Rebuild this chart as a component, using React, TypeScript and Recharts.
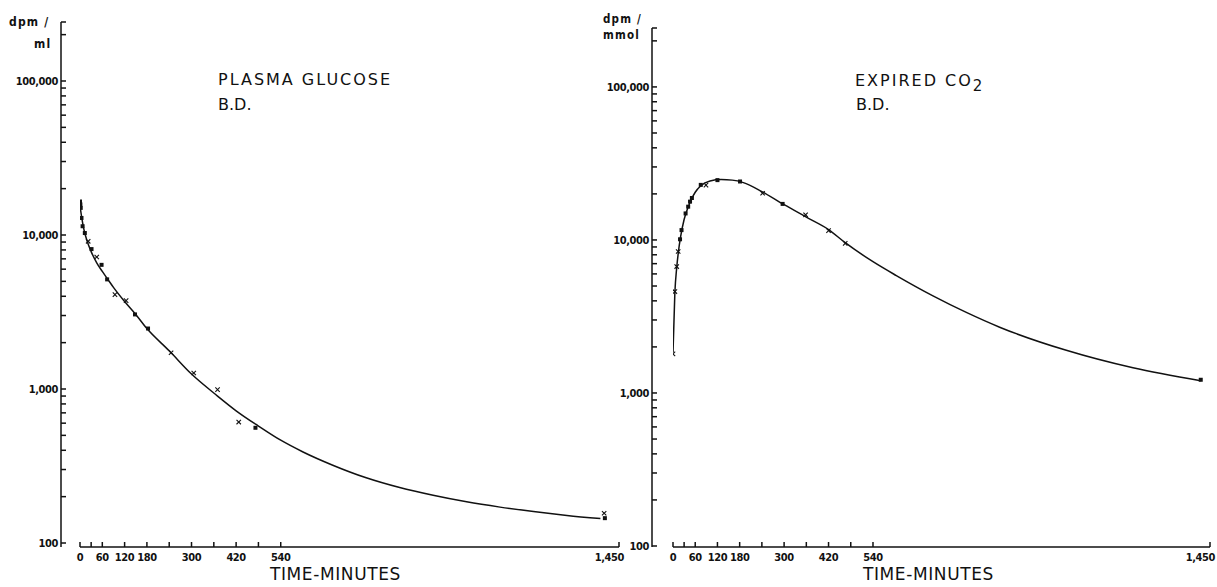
import React from 'react';
import { ComposedChart, Line, Scatter, XAxis, YAxis, ReferenceLine } from 'recharts';

// time axis (minutes)
const xTicks = [0, 30, 60, 120, 180, 240, 300, 360, 420, 480, 540, 1450];
const xTickLabels: Record<number, string> = {
  0: '0', 60: '60', 120: '120', 180: '180', 300: '300', 420: '420', 540: '540', 1450: '1,450',
};

// log axis
const yDecades = [100, 1000, 10000, 100000];
const yMinorSteps = [2, 3, 4, 5, 6, 7, 8, 9];
const yTickLabels: Record<number, string> = {
  100: '100', 1000: '1,000', 10000: '10,000', 100000: '100,000',
};

// plasma glucose, dpm/ml  [minutes, value]
const glucoseCurve: [number, number][] = [
  [0, 15500], [5, 12800], [10, 11000], [20, 9000], [30, 7800], [45, 6600], [60, 5800],
  [75, 5150], [90, 4570], [120, 3700], [150, 3050], [180, 2470], [240, 1770], [300, 1250],
  [370, 900], [420, 722], [480, 575], [540, 465], [600, 390], [680, 320], [770, 265],
  [860, 229], [950, 204], [1040, 185], [1130, 171], [1220, 160], [1310, 151], [1400, 144],
];
const glucoseDots: [number, number][] = [
  [0, 16500], [1, 15800], [2, 15000], [4, 12900], [7, 11400], [13, 10300], [31, 8100],
  [58, 6400], [73, 5150], [148, 3050], [183, 2470], [472, 560], [1412, 145],
];
const glucoseCrosses: [number, number][] = [
  [22, 9100], [45, 7200], [94, 4100], [124, 3750], [245, 1720], [306, 1270], [370, 990],
  [427, 610], [1410, 156],
];

// expired CO2, dpm/mmol
const co2Curve: [number, number][] = [
  [0, 1830], [5, 4500], [10, 6600], [15, 8500], [20, 10300], [30, 13600], [40, 16200],
  [50, 18500], [60, 20500], [75, 22600], [100, 24300], [130, 24800], [160, 24600],
  [190, 23700], [240, 20700], [300, 17000], [360, 14100], [420, 11700], [465, 9600],
  [540, 7210], [603, 5850], [702, 4310], [792, 3360], [882, 2690], [1062, 1900],
  [1242, 1460], [1425, 1200],
];
const co2Dots: [number, number][] = [
  [19, 10100], [23, 11600], [34, 14900], [41, 16500], [46, 17800], [51, 18800],
  [75, 22900], [120, 24600], [181, 24100], [296, 17200], [1425, 1220],
];
const co2Crosses: [number, number][] = [
  [0, 1800], [5, 4600], [10, 6700], [14, 8400], [89, 22800], [242, 20200], [358, 14600],
  [420, 11500], [465, 9500],
];

const toRows = (pts: [number, number][]) => pts.map(([t, v]) => ({ t, v }));

const labelFont = '"DejaVu Sans Condensed", "Liberation Sans Narrow", "DejaVu Sans", sans-serif';
const textFont = '"DejaVu Sans", sans-serif';

const XTick = (props: any) => {
  const { x, y, payload } = props;
  const label = xTickLabels[payload.value];
  const last = payload.value === 1450;
  return (
    <g>
      <line x1={x} x2={x} y1={y} y2={y - 5} stroke="#111" strokeWidth={1.5} />
      {label && (
        <text
          x={last ? x + 5 : x}
          y={y + 14}
          textAnchor={last ? 'end' : 'middle'}
          fontFamily={labelFont}
          fontWeight="bold"
          fontSize={11}
          letterSpacing={-0.4}
          fill="#111"
        >
          {label}
        </text>
      )}
    </g>
  );
};

const YTick = (props: any) => {
  const { x, y, payload } = props;
  const label = yTickLabels[payload.value];
  return (
    <g>
      <line x1={x} x2={x + 5} y1={y} y2={y} stroke="#111" strokeWidth={1.5} />
      {label && (
        <text
          x={x - 3}
          y={y}
          dy={4}
          textAnchor="end"
          fontFamily={labelFont}
          fontWeight="bold"
          fontSize={11}
          letterSpacing={-0.4}
          fill="#111"
        >
          {label}
        </text>
      )}
    </g>
  );
};

const Cross = (props: any) => {
  const { cx, cy } = props;
  const s = 2.2;
  return (
    <g stroke="#111" strokeWidth={1.1}>
      <line x1={cx - s} y1={cy - s} x2={cx + s} y2={cy + s} />
      <line x1={cx - s} y1={cy + s} x2={cx + s} y2={cy - s} />
    </g>
  );
};

const Dot = (props: any) => {
  const { cx, cy } = props;
  return <rect x={cx - 2} y={cy - 2} width={4} height={4} fill="#111" />;
};

interface PanelProps {
  left: number;
  width: number;
  top: number;
  right: number;
  padLeft: number;
  yDomain: [number, number];
  curve: [number, number][];
  dots: [number, number][];
  crosses: [number, number][];
}

const Panel = ({ left, width, top, right, padLeft, yDomain, curve, dots, crosses }: PanelProps) => {
  const yTicks = [
    ...yDecades.flatMap((d) => [d, ...yMinorSteps.map((m) => m * d)]).filter((v) => v >= yDomain[0] && v <= 200000),
    yDomain[1],
  ];
  return (
    <div style={{ position: 'absolute', left, top: 0 }}>
      <ComposedChart width={width} height={587} margin={{ top, right, bottom: 0, left: 0 }}>
        <XAxis
          type="number"
          dataKey="t"
          domain={[0, 1450]}
          allowDataOverflow
          ticks={xTicks}
          interval={0}
          padding={{ left: padLeft, right: 0 }}
          axisLine={false}
          tickLine={false}
          tickSize={0}
          tickMargin={0}
          height={587 - 547}
          tick={XTick}
        />
        <YAxis
          type="number"
          scale="log"
          domain={yDomain}
          allowDataOverflow
          ticks={yTicks}
          interval={0}
          width={61}
          axisLine={{ stroke: '#111', strokeWidth: 1.5 }}
          tickLine={false}
          tickSize={0}
          tickMargin={0}
          tick={YTick}
        />
        <ReferenceLine
          segment={[{ x: 0, y: yDomain[0] }, { x: 1450, y: yDomain[0] }]}
          stroke="#111"
          strokeWidth={1.5}
          ifOverflow="visible"
        />
        <Line
          data={toRows(curve)}
          dataKey="v"
          type="monotone"
          dot={false}
          stroke="#111"
          strokeWidth={1.5}
          isAnimationActive={false}
        />
        <Scatter data={toRows(dots)} dataKey="v" shape={Dot} isAnimationActive={false} />
        <Scatter data={toRows(crosses)} dataKey="v" shape={Cross} isAnimationActive={false} />
      </ComposedChart>
    </div>
  );
};

const txt = (left: number, top: number, style: React.CSSProperties, children: React.ReactNode) => (
  <div style={{ position: 'absolute', left, top, whiteSpace: 'nowrap', color: '#111', lineHeight: 1, ...style }}>
    {children}
  </div>
);

const unitStyle: React.CSSProperties = { fontFamily: labelFont, fontWeight: 'bold', fontSize: 12, letterSpacing: 1.2 };
const titleStyle: React.CSSProperties = { fontFamily: textFont, fontSize: 16, letterSpacing: 2 };
const axisTitleStyle: React.CSSProperties = { fontFamily: textFont, fontSize: 17, letterSpacing: 0.6 };

const App = () => (
  <div style={{ position: 'absolute', left: 0, top: 0, width: 1217, height: 587, background: '#fff', overflow: 'hidden' }}>
    <Panel
      left={0}
      width={640}
      top={22}
      right={21}
      padLeft={19}
      yDomain={[94.2, 241600]}
      curve={glucoseCurve}
      dots={glucoseDots}
      crosses={glucoseCrosses}
    />
    <Panel
      left={591}
      width={626}
      top={28}
      right={7}
      padLeft={21}
      yDomain={[98.5, 242700]}
      curve={co2Curve}
      dots={co2Dots}
      crosses={co2Crosses}
    />

    {txt(9, 16, unitStyle, 'dpm /')}
    {txt(34, 38, unitStyle, 'ml')}
    {txt(603, 14, { ...unitStyle, fontSize: 11.5 }, 'dpm /')}
    {txt(603, 30, { ...unitStyle, fontSize: 11.5 }, 'mmol')}

    {txt(218, 72, titleStyle, 'PLASMA GLUCOSE')}
    {txt(218, 97, { ...titleStyle, letterSpacing: 0 }, 'B.D.')}
    {txt(855, 73, titleStyle, <>EXPIRED CO<span style={{ position: 'relative', top: 5, fontSize: 15, letterSpacing: 0 }}>2</span></>)}
    {txt(856, 97, { ...titleStyle, letterSpacing: 0 }, 'B.D.')}

    {txt(270, 566, axisTitleStyle, 'TIME-MINUTES')}
    {txt(863, 566, axisTitleStyle, 'TIME-MINUTES')}
  </div>
);

export default App;
